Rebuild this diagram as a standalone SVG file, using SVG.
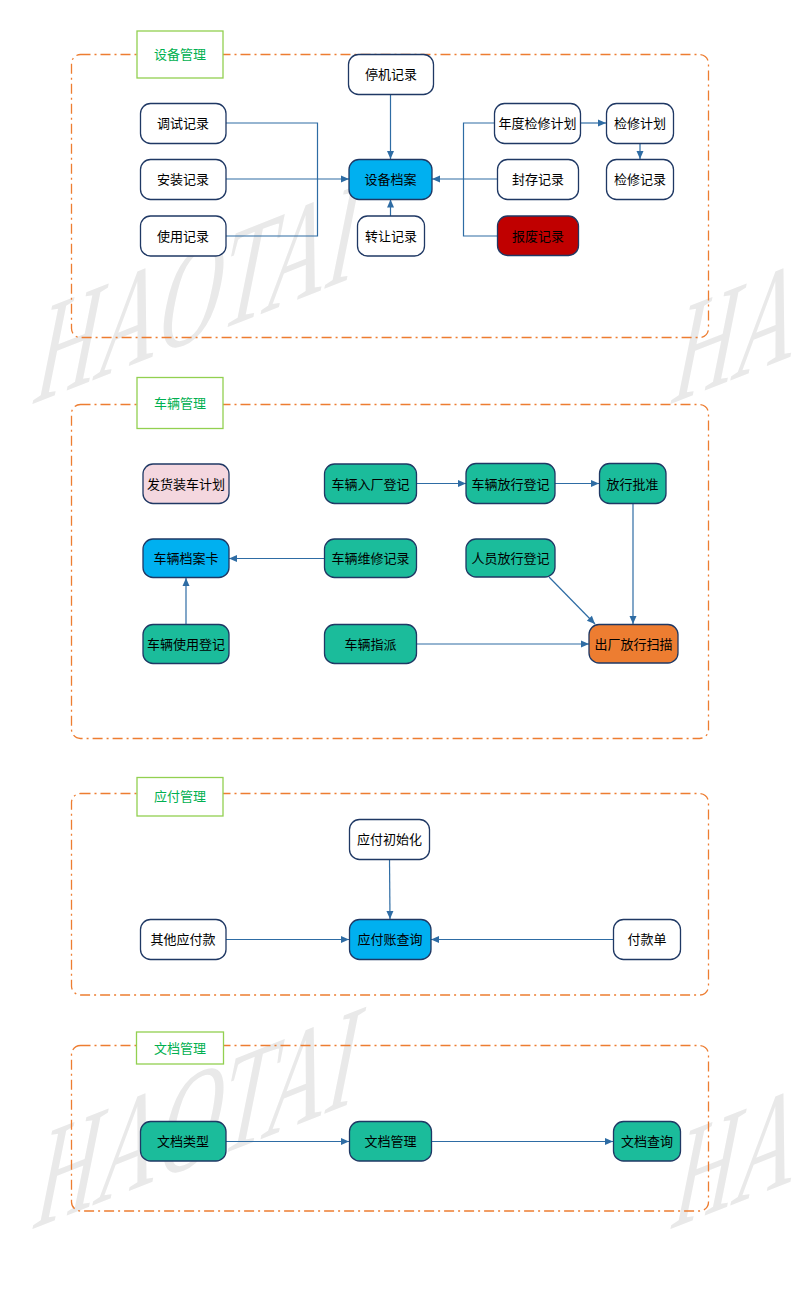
<svg xmlns="http://www.w3.org/2000/svg" width="794" height="1302" viewBox="0 0 794 1302">
<style>
.wm{font-family:"Liberation Serif","Times New Roman",serif;font-size:100px;fill:#e9e9e9}
.box{fill:none;stroke:#ed7d31;stroke-width:1.3;stroke-dasharray:10 4 2 4}
.title rect{fill:#fff;stroke:#92d050;stroke-width:1.3}
.title text{font-family:"Noto Sans CJK SC","Noto Sans",sans-serif;font-size:13px;fill:#00b050;text-anchor:middle}
.node rect{stroke:#1f3864;stroke-width:1.3}
.node text{font-family:"Noto Sans CJK SC","Noto Sans",sans-serif;font-size:13px;fill:#000;text-anchor:middle}
.w{fill:#fff}.b{fill:#00b0f0}.t{fill:#1bbc9b}.r{fill:#c00000}.p{fill:#f4d7df}.o{fill:#ed7d31}
#connectors path{fill:none;stroke:#2e6ca4;stroke-width:1.2}
</style>
<defs>
<marker id="ah" markerUnits="userSpaceOnUse" markerWidth="10" markerHeight="10" viewBox="0 0 10 10" refX="9" refY="5" orient="auto">
<path d="M1,1.5 L9,5 L1,8.5 Z" fill="#2e6ca4"/>
</marker>
</defs>
<rect width="794" height="1302" fill="#fff"/>
<g id="watermarks">
<text class="wm" transform="matrix(0.852,-0.336,-0.3,1.5,30,405)">HAOTAI</text>
<text class="wm" transform="matrix(0.852,-0.336,-0.3,1.5,668,405)">HAOTAI</text>
<text class="wm" transform="matrix(0.852,-0.336,-0.3,1.5,30,1230)">HAOTAI</text>
<text class="wm" transform="matrix(0.852,-0.336,-0.3,1.5,668,1230)">HAOTAI</text>
</g>
<g id="containers">
<rect class="box" x="71.5" y="54.5" width="637" height="283" rx="9"/>
<rect class="box" x="71.5" y="404.5" width="637" height="334" rx="9"/>
<rect class="box" x="71.5" y="793.5" width="637" height="201.5" rx="9"/>
<rect class="box" x="71.5" y="1045.5" width="637" height="165.5" rx="9"/>
</g>
<g id="titles">
<g id="t1" class="title"><rect x="137" y="31" width="86" height="47"/><text x="180" y="59">设备管理</text></g>
<g id="t2" class="title"><rect x="137" y="377.5" width="86" height="51"/><text x="180" y="407.5">车辆管理</text></g>
<g id="t3" class="title"><rect x="137" y="777.5" width="86" height="38.5"/><text x="180" y="801">应付管理</text></g>
<g id="t4" class="title"><rect x="136.5" y="1032" width="87" height="32"/><text x="180" y="1052.5">文档管理</text></g>
</g>
<g id="connectors">
<path d="M226,123 H317.5 V236 H226"/>
<path d="M226,179 H349" marker-end="url(#ah)"/>
<path d="M390.5,94 V159" marker-end="url(#ah)"/>
<path d="M390.5,216 V199.5" marker-end="url(#ah)"/>
<path d="M494,123 H463.5 V236 H497"/>
<path d="M497,179 H432" marker-end="url(#ah)"/>
<path d="M580,123 H606" marker-end="url(#ah)"/>
<path d="M640,143 V159" marker-end="url(#ah)"/>
<path d="M416,483.5 H466" marker-end="url(#ah)"/>
<path d="M555,483.5 H599" marker-end="url(#ah)"/>
<path d="M633,503 V624" marker-end="url(#ah)"/>
<path d="M549,577 L595,624" marker-end="url(#ah)"/>
<path d="M416,644 H589" marker-end="url(#ah)"/>
<path d="M324,558.5 H229" marker-end="url(#ah)"/>
<path d="M186,624 V578" marker-end="url(#ah)"/>
<path d="M389.5,859 L390,919" marker-end="url(#ah)"/>
<path d="M226,939.5 H349" marker-end="url(#ah)"/>
<path d="M613,939.5 H431" marker-end="url(#ah)"/>
<path d="M226,1141.5 H349" marker-end="url(#ah)"/>
<path d="M432,1141.5 H613" marker-end="url(#ah)"/>
</g>
<g id="n_tingji" class="node"><rect class="w" x="348.5" y="54.5" width="85" height="40" rx="10"/><text x="391" y="79">停机记录</text></g>
<g id="n_tiaoshi" class="node"><rect class="w" x="140.5" y="103.5" width="85.5" height="40" rx="10"/><text x="183" y="128">调试记录</text></g>
<g id="n_anzhuang" class="node"><rect class="w" x="140.5" y="159.5" width="85.5" height="40" rx="10"/><text x="183" y="184">安装记录</text></g>
<g id="n_shiyong" class="node"><rect class="w" x="140.5" y="216" width="85.5" height="40" rx="10"/><text x="183" y="240.5">使用记录</text></g>
<g id="n_dangan" class="node"><rect class="b" x="349" y="159.5" width="83" height="40" rx="10"/><text x="390.5" y="184">设备档案</text></g>
<g id="n_zhuanrang" class="node"><rect class="w" x="357.5" y="216" width="67" height="40" rx="10"/><text x="391" y="240.5">转让记录</text></g>
<g id="n_niandu" class="node"><rect class="w" x="494.5" y="103.5" width="86" height="40" rx="10"/><text x="537.5" y="128">年度检修计划</text></g>
<g id="n_jxjh" class="node"><rect class="w" x="606.5" y="103.5" width="67" height="40" rx="10"/><text x="640" y="128">检修计划</text></g>
<g id="n_fengcun" class="node"><rect class="w" x="497.5" y="159.5" width="81" height="40" rx="10"/><text x="538" y="184">封存记录</text></g>
<g id="n_jxjl" class="node"><rect class="w" x="606.5" y="159.5" width="67" height="40" rx="10"/><text x="640" y="184">检修记录</text></g>
<g id="n_baofei" class="node"><rect class="r" x="497.5" y="216" width="81" height="39.5" rx="10"/><text x="538" y="240.5">报废记录</text></g>
<g id="n_fahuo" class="node"><rect class="p" x="143" y="464" width="86" height="39.5" rx="10"/><text x="186" y="488.5">发货装车计划</text></g>
<g id="n_ruchang" class="node"><rect class="t" x="324.5" y="464" width="92" height="39.5" rx="10"/><text x="370.5" y="488.5">车辆入厂登记</text></g>
<g id="n_fxdj" class="node"><rect class="t" x="466" y="463.5" width="89" height="40" rx="10"/><text x="510.5" y="488.5">车辆放行登记</text></g>
<g id="n_fxpz" class="node"><rect class="t" x="599.5" y="463.5" width="66.5" height="40" rx="10"/><text x="632.5" y="488.5">放行批准</text></g>
<g id="n_danganka" class="node"><rect class="b" x="143" y="539" width="86" height="38.5" rx="10"/><text x="186" y="563">车辆档案卡</text></g>
<g id="n_weixiu" class="node"><rect class="t" x="324.5" y="539" width="92" height="38.5" rx="10"/><text x="370.5" y="563">车辆维修记录</text></g>
<g id="n_renyuan" class="node"><rect class="t" x="466" y="539" width="89" height="38" rx="10"/><text x="510.5" y="563">人员放行登记</text></g>
<g id="n_shiyongdj" class="node"><rect class="t" x="143" y="624.5" width="86" height="39" rx="10"/><text x="186" y="648.5">车辆使用登记</text></g>
<g id="n_zhipai" class="node"><rect class="t" x="324.5" y="624.5" width="92" height="39" rx="10"/><text x="370.5" y="648.5">车辆指派</text></g>
<g id="n_chuchang" class="node"><rect class="o" x="589" y="624.5" width="89" height="38.5" rx="10"/><text x="633.5" y="648.5">出厂放行扫描</text></g>
<g id="n_yfcsh" class="node"><rect class="w" x="349.5" y="819.5" width="80" height="40" rx="10"/><text x="389.5" y="844">应付初始化</text></g>
<g id="n_qita" class="node"><rect class="w" x="140.5" y="919.5" width="85.5" height="40" rx="10"/><text x="183" y="944">其他应付款</text></g>
<g id="n_yfzcx" class="node"><rect class="b" x="349.5" y="919.5" width="81.5" height="40" rx="10"/><text x="390" y="944">应付账查询</text></g>
<g id="n_fkd" class="node"><rect class="w" x="613.5" y="919.5" width="67" height="40" rx="10"/><text x="647" y="944">付款单</text></g>
<g id="n_wdlx" class="node"><rect class="t" x="140.5" y="1121.5" width="85.5" height="39.5" rx="10"/><text x="183" y="1146">文档类型</text></g>
<g id="n_wdgl" class="node"><rect class="t" x="349.5" y="1121.5" width="82" height="39.5" rx="10"/><text x="390.5" y="1146">文档管理</text></g>
<g id="n_wdcx" class="node"><rect class="t" x="613.5" y="1121.5" width="67" height="39.5" rx="10"/><text x="647" y="1146">文档查询</text></g>
</svg>
